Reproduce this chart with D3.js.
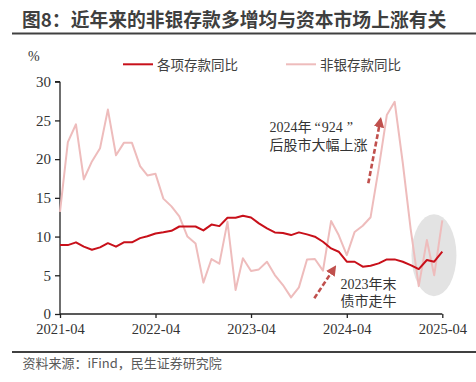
<!DOCTYPE html>
<html><head><meta charset="utf-8">
<script src="https://cdn.jsdelivr.net/npm/d3@7"></script>
<style>
html,body{margin:0;padding:0;background:#fff;}
svg{display:block;}
</style></head>
<body>
<svg id="chart" width="476" height="382"></svg>
<script>
// ---- data ----
const months = d3.timeMonths(new Date(2021, 3, 1), new Date(2025, 4, 1)).map(d => d3.timeFormat("%Y-%m")(d));
const totalDeposits = [8.9, 8.9, 9.25, 8.7, 8.3, 8.6, 9.15, 8.7, 9.25, 9.25, 9.8, 10.05, 10.4,
  10.55, 10.75, 11.3, 11.3, 11.3, 10.8, 11.55, 11.35, 12.43, 12.43, 12.69, 12.47,
  11.7, 11.05, 10.54, 10.45, 10.19, 10.54, 10.28, 9.98, 9.33, 8.47, 8.04, 6.75,
  6.75, 6.11, 6.24, 6.54, 7.05, 7.05, 6.75, 6.32, 5.8, 6.97, 6.75, 8.04];
const nonBankDeposits = [13.2, 22.2, 24.5, 17.4, 19.7, 21.4, 26.4, 20.5, 22.1, 22.1, 19.1, 17.9, 18.1,
  14.9, 13.9, 12.6, 10.0, 9.1, 4.05, 7.1, 6.5, 11.9, 3.1, 7.2, 5.55,
  5.76, 6.75, 5.03, 3.74, 2.15, 3.44, 7.05, 7.1, 5.6, 12.0, 10.2, 7.6,
  10.6, 11.4, 12.5, 18.8, 25.7, 27.4, 19.5, 11.0, 3.6, 9.55, 5.0, 12.1];
const seriesNames = ["各项存款同比", "非银存款同比"];
const xTickLabels = ["2021-04", "2022-04", "2023-04", "2024-04", "2025-04"];
const yTicks = [0, 5, 10, 15, 20, 25, 30];
const title = "图8：近年来的非银存款多增均与资本市场上涨有关";
const source = "资料来源：iFind，民生证券研究院";
const note1a = ["2024年", "“", "924", "”"];
const note1b = "后股市大幅上涨";
const note2 = ["2023年末", "债市走牛"];
const highlightRange = ["2024-12", "2025-04"];

// ---- chart ----
const svg = d3.select("#chart");
const parse = d3.timeParse("%Y-%m");
const serif = "'Liberation Serif','Times New Roman','Noto Sans CJK SC',serif";
const cjk = "'Noto Sans CJK SC','Noto Sans',sans-serif";

const x = d3.scaleTime().domain([parse(xTickLabels[0]), parse(xTickLabels[4])]).range([60, 442.3]);
const y = d3.scaleLinear().domain([0, 30]).range([314, 81.7]);

// title
svg.append("text").attr("x", 22).attr("y", 27).text(title)
  .attr("font-family", cjk).attr("font-weight", "bold").attr("font-size", 18.8).attr("fill", "#3f3f3f");
svg.append("line").attr("x1", 12).attr("x2", 476).attr("y1", 33.5).attr("y2", 33.5)
  .attr("stroke", "#404040").attr("stroke-width", 2);

// highlight ellipse
const hx0 = x(parse(highlightRange[0])), hx1 = x(parse(highlightRange[1]));
svg.append("ellipse").attr("cx", (hx0 + hx1) / 2 + 7.5).attr("cy", y(7.6)).attr("rx", 22.5).attr("ry", 41)
  .attr("fill", "#e3e3e3");

// axes
const yAxis = d3.axisLeft(y).tickValues(yTicks).tickSize(5).tickPadding(4);
const gy = svg.append("g").attr("transform", "translate(60,0)").call(yAxis);
gy.selectAll("text").attr("font-family", serif).attr("font-size", 15).attr("fill", "#333");
gy.selectAll("line,path").attr("stroke", "#222").attr("stroke-width", 1.3);
gy.select(".domain").attr("d", `M0,${y(30)}H-5M0,${y(30)}V${y(0)}`);

const xAxis = d3.axisBottom(x).tickValues(xTickLabels.map(parse)).tickFormat(d3.timeFormat("%Y-%m")).tickSize(4).tickPadding(6);
const gx = svg.append("g").attr("transform", `translate(0,${y(0)})`).call(xAxis);
gx.selectAll("text").attr("font-family", serif).attr("font-size", 14.5).attr("fill", "#333");
gx.selectAll("line,path").attr("stroke", "#222").attr("stroke-width", 1.3);
gx.select(".domain").attr("d", `M${x.range()[0]},0H${x.range()[1]}`);

svg.append("text").attr("x", 28).attr("y", 61).text("%")
  .attr("font-family", serif).attr("font-size", 14).attr("fill", "#333");

// lines
const line = d3.line().x((d, i) => x(parse(months[i]))).y(d => y(d));
svg.append("path").datum(nonBankDeposits).attr("d", line).attr("fill", "none")
  .attr("stroke", "#eebcbc").attr("stroke-width", 2).attr("stroke-linejoin", "round");
svg.append("path").datum(totalDeposits).attr("d", line).attr("fill", "none")
  .attr("stroke", "#c8101a").attr("stroke-width", 2).attr("stroke-linejoin", "round");

// legend
const legend = [{name: seriesNames[0], color: "#c8101a", x: 123}, {name: seriesNames[1], color: "#eebcbc", x: 286}];
legend.forEach(l => {
  svg.append("line").attr("x1", l.x).attr("x2", l.x + 30).attr("y1", 64.3).attr("y2", 64.3)
    .attr("stroke", l.color).attr("stroke-width", 2);
  svg.append("text").attr("x", l.x + 34).attr("y", 69.5).text(l.name)
    .attr("font-family", cjk).attr("font-size", 13.5).attr("fill", "#404040");
});

// arrows
const defs = svg.append("defs");
defs.append("marker").attr("id", "ah").attr("viewBox", "0 0 10 10").attr("refX", 8).attr("refY", 5)
  .attr("markerWidth", 4).attr("markerHeight", 4).attr("orient", "auto")
  .append("path").attr("d", "M0,0L10,5L0,10Z").attr("fill", "#c0504d");
function arrow(x1, y1, x2, y2) {
  svg.append("line").attr("x1", x1).attr("y1", y1).attr("x2", x2).attr("y2", y2)
    .attr("stroke", "#c0504d").attr("stroke-width", 2.6).attr("stroke-dasharray", "5,2.5")
    .attr("marker-end", "url(#ah)");
}
arrow(368.3, 183.3, 380.6, 119);
arrow(314.3, 298.3, 335, 267);

// annotations
const t1 = svg.append("text").attr("x", 269.5).attr("y", 131.5)
  .attr("font-family", serif).attr("font-size", 14).attr("fill", "#333");
t1.append("tspan").text(note1a[0]);
t1.append("tspan").attr("dx", 3).text(note1a[1]);
t1.append("tspan").attr("dx", 1).text(note1a[2]);
t1.append("tspan").attr("dx", 4).text(note1a[3]);
svg.append("text").attr("x", 269.5).attr("y", 150).text(note1b)
  .attr("font-family", serif).attr("font-size", 14).attr("fill", "#333");
note2.forEach((t, i) => svg.append("text").attr("x", 340.5).attr("y", 288.5 + i * 17).text(t)
  .attr("font-family", serif).attr("font-size", 14).attr("fill", "#333"));

// footer
svg.append("line").attr("x1", 12).attr("x2", 476).attr("y1", 352).attr("y2", 352)
  .attr("stroke", "#404040").attr("stroke-width", 2);
svg.append("text").attr("x", 22.5).attr("y", 368).text(source)
  .attr("font-family", cjk).attr("font-size", 13).attr("fill", "#595959");
</script>
</body></html>
